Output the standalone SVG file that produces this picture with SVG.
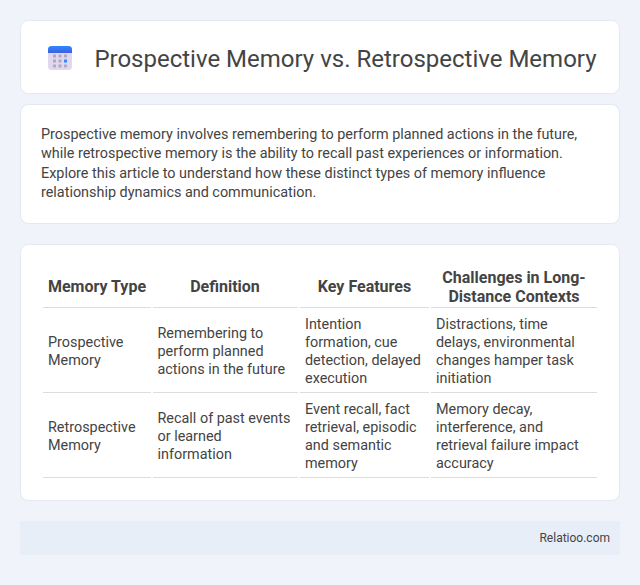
<svg xmlns="http://www.w3.org/2000/svg" width="640" height="585" viewBox="0 0 640 585">
<defs>
<linearGradient id="top" x1="0" y1="0" x2="0" y2="1"><stop offset="0" stop-color="#2f88ff"/><stop offset="1" stop-color="#3f5fe0"/></linearGradient>
</defs>
<style>
text{font-family:Roboto,"Liberation Sans",sans-serif;fill:#444}
.card{fill:#fff;stroke:#e3e8f1;stroke-width:1}
.body{font-size:14.4px}
.cell{font-size:14.4px}
.th{font-size:16px;font-weight:700;text-anchor:middle}
.rule{stroke:#ddd;stroke-width:1}
.dot{fill:#b3a8c4}
</style>
<rect width="640" height="585" fill="#f0f3f9"/>
<g id="header">
<rect class="card" x="20.500" y="20.500" width="599" height="73" rx="8"/>
<rect x="48" y="46" width="24" height="24" rx="3.500" fill="#e0d8ef"/>
<path d="M48 53v-3.500a3.500 3.500 0 0 1 3.500-3.500h17a3.500 3.500 0 0 1 3.500 3.500V53z" fill="url(#top)"/>
<g class="dot">
<rect x="53" y="54.500" width="3" height="3"/><rect x="58.500" y="54.500" width="3" height="3"/><rect x="64" y="54.500" width="3" height="3"/>
<rect x="53" y="59.500" width="3" height="3"/><rect x="58.500" y="59.500" width="3" height="3"/><rect x="64" y="59.500" width="3" height="3" fill="#2f88ff"/>
<rect x="53" y="64.500" width="3" height="3"/><rect x="58.500" y="64.500" width="3" height="3"/><rect x="64" y="64.500" width="3" height="3"/>
</g>
<text x="94.400" y="67" font-size="24">Prospective Memory vs. Retrospective Memory</text>
</g>
<g id="intro">
<rect class="card" x="20.500" y="104.500" width="599" height="119" rx="8"/>
<text class="body" x="41" y="139">Prospective memory involves remembering to perform planned actions in the future,</text>
<text class="body" x="41" y="158">while retrospective memory is the ability to recall past experiences or information.</text>
<text class="body" x="41" y="178">Explore this article to understand how these distinct types of memory influence</text>
<text class="body" x="41" y="197">relationship dynamics and communication.</text>
</g>
<g id="table">
<rect class="card" x="20.500" y="244.500" width="599" height="256" rx="8"/>
<text class="th" x="97" y="292">Memory Type</text>
<text class="th" x="225" y="292">Definition</text>
<text class="th" x="364.500" y="292">Key Features</text>
<text class="th" x="514" y="283">Challenges in Long-</text>
<text class="th" x="514" y="302">Distance Contexts</text>
<g class="rule">
<path d="M43 307.500H151M153 307.500H298M300 307.500H429M431 307.500H597"/>
<path d="M43 392.500H151M153 392.500H298M300 392.500H429M431 392.500H597"/>
<path d="M43 477.500H151M153 477.500H298M300 477.500H429M431 477.500H597"/>
</g>
<g class="cell">
<text x="48" y="347">Prospective</text><text x="48" y="365">Memory</text>
<text x="157.500" y="338">Remembering to</text><text x="157.500" y="356">perform planned</text><text x="157.500" y="374">actions in the future</text>
<text x="305" y="329">Intention</text><text x="305" y="347">formation, cue</text><text x="305" y="365">detection, delayed</text><text x="305" y="383">execution</text>
<text x="436" y="329">Distractions, time</text><text x="436" y="347">delays, environmental</text><text x="436" y="365">changes hamper task</text><text x="436" y="383">initiation</text>
<text x="48" y="432">Retrospective</text><text x="48" y="450">Memory</text>
<text x="157.500" y="423">Recall of past events</text><text x="157.500" y="441">or learned</text><text x="157.500" y="459">information</text>
<text x="305" y="414">Event recall, fact</text><text x="305" y="432">retrieval, episodic</text><text x="305" y="450">and semantic</text><text x="305" y="468">memory</text>
<text x="436" y="414">Memory decay,</text><text x="436" y="432">interference, and</text><text x="436" y="450">retrieval failure impact</text><text x="436" y="468">accuracy</text>
</g>
</g>
<g id="footer">
<rect x="20" y="521" width="600" height="34" fill="#e8eef8"/>
<text x="610" y="542" font-size="12" text-anchor="end">Relatioo.com</text>
</g>
</svg>
